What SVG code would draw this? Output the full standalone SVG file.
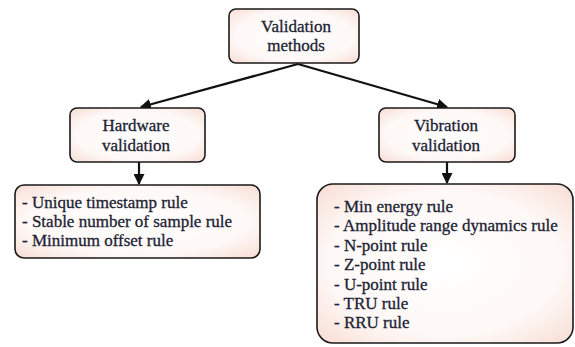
<svg xmlns="http://www.w3.org/2000/svg" width="575" height="347" viewBox="0 0 575 347">
<defs>
<radialGradient id="fill" cx="50%" cy="50%" r="70%">
<stop offset="0" stop-color="#ffffff"/>
<stop offset="0.65" stop-color="#fef8f6"/>
<stop offset="1" stop-color="#f8ddd4"/>
</radialGradient>
<marker id="arr" viewBox="0 0 10 10" refX="9" refY="5" markerWidth="5" markerHeight="5" orient="auto" markerUnits="strokeWidth">
<path d="M0,0 L10,5 L0,10 z" fill="#111"/>
</marker>
<style>
.box{fill:url(#fill);stroke:#1a1a1a;stroke-width:1.6}
.t{font-family:"Liberation Serif","Times New Roman",serif;font-size:17px;fill:#1c2233;stroke:#1c2233;stroke-width:0.3}
.c{text-anchor:middle}
.ln{stroke:#111;stroke-width:2.2;fill:none;marker-end:url(#arr)}
</style>
</defs>
<rect width="575" height="347" fill="#fff"/>
<g id="connectors">
<line class="ln" x1="298" y1="64" x2="141" y2="107"/>
<line class="ln" x1="298" y1="64" x2="447" y2="107"/>
<line class="ln" x1="139" y1="162" x2="139" y2="184"/>
<line class="ln" x1="447" y1="162" x2="447" y2="183"/>
</g>
<g id="validation-methods">
<rect class="box" x="229" y="9" width="130" height="54" rx="7"/>
<text class="t c" x="296" y="32">Validation</text>
<text class="t c" x="296" y="51">methods</text>
</g>
<g id="hardware-validation">
<rect class="box" x="70" y="108" width="135" height="54" rx="7"/>
<text class="t c" x="136" y="131">Hardware</text>
<text class="t c" x="136" y="151">validation</text>
</g>
<g id="vibration-validation">
<rect class="box" x="379" y="108" width="136" height="54" rx="7"/>
<text class="t c" x="446" y="131">Vibration</text>
<text class="t c" x="446" y="151">validation</text>
</g>
<g id="hardware-rules">
<rect class="box" x="15" y="185" width="245" height="73" rx="9"/>
<text class="t" x="22" y="208">- Unique timestamp rule</text>
<text class="t" x="22" y="227">- Stable number of sample rule</text>
<text class="t" x="22" y="246">- Minimum offset rule</text>
</g>
<g id="vibration-rules">
<rect class="box" x="317" y="184" width="256" height="159" rx="16"/>
<text class="t" x="334" y="212">- Min energy rule</text>
<text class="t" x="334" y="231">- Amplitude range dynamics rule</text>
<text class="t" x="334" y="251">- N-point rule</text>
<text class="t" x="334" y="270">- Z-point rule</text>
<text class="t" x="334" y="290">- U-point rule</text>
<text class="t" x="334" y="309">- TRU rule</text>
<text class="t" x="334" y="328">- RRU rule</text>
</g>
</svg>
